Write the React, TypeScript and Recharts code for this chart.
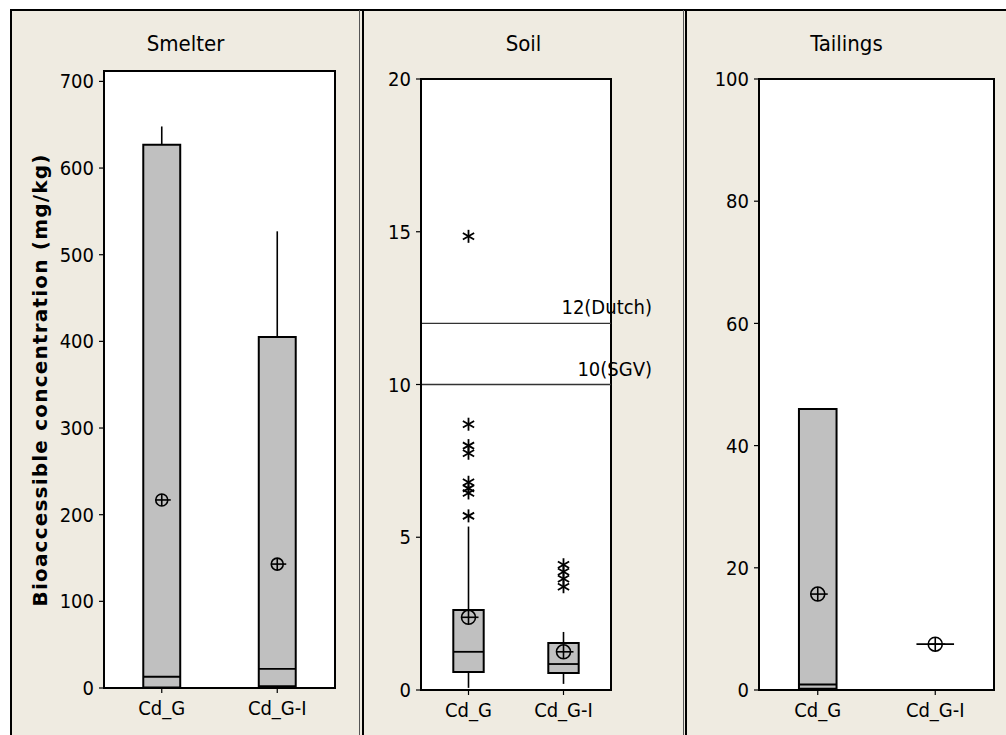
import React from 'react';
import { ComposedChart, XAxis, YAxis, Scatter, ReferenceArea, ReferenceLine } from 'recharts';

// ---------- data ----------
const categories = ['Cd_G', 'Cd_G-I'];
const yAxisTitle = 'Bioaccessible concentration (mg/kg)';

const smelterTitle = 'Smelter';
const smelterTicks = [0, 100, 200, 300, 400, 500, 600, 700];
const smelterYMax = 712;
const smelterQ1 = [0.5, 2];
const smelterMedian = [13, 22];
const smelterQ3 = [627, 405];
const smelterWhiskerLow = [0, 0];
const smelterWhiskerHigh = [648, 527];
const smelterMean = [217, 143];
const smelterOutliers: number[][] = [[], []];

const soilTitle = 'Soil';
const soilTicks = [0, 5, 10, 15, 20];
const soilYMax = 20;
const soilQ1 = [0.59, 0.56];
const soilMedian = [1.25, 0.85];
const soilQ3 = [2.62, 1.54];
const soilWhiskerLow = [0.07, 0.2];
const soilWhiskerHigh = [5.35, 1.9];
const soilMean = [2.38, 1.25];
const soilOutliers: number[][] = [
  [14.85, 8.7, 8.0, 7.75, 6.8, 6.6, 6.45, 5.7],
  [4.1, 3.87, 3.64, 3.38],
];
const soilGuideValues = [12, 10];
const soilGuideLabels = ['12(Dutch)', '10(SGV)'];

const tailingsTitle = 'Tailings';
const tailingsTicks = [0, 20, 40, 60, 80, 100];
const tailingsYMax = 100;
const tailingsQ1 = [0.2, 7.5];
const tailingsMedian = [0.9, 7.5];
const tailingsQ3 = [46, 7.5];
const tailingsWhiskerLow = [0.2, 7.5];
const tailingsWhiskerHigh = [46, 7.5];
const tailingsMean = [15.7, 7.5];
const tailingsOutliers: number[][] = [[], []];

// ---------- styles ----------
const FONT = "'DejaVu Sans Condensed', 'DejaVu Sans', sans-serif";
const BG = '#EFEBE1';
const BOX_FILL = '#C0C0C0';
const BW = 0.16; // half box width in x-units

const MeanSymbol = (props: any) => {
  const { cx, cy, r } = props;
  if (cx == null || cy == null) return null;
  return (
    <g stroke="#000" strokeWidth={1.6} fill="none">
      <circle cx={cx} cy={cy} r={r} />
      <line x1={cx} y1={cy - r} x2={cx} y2={cy + r} />
      <line x1={cx - r} y1={cy} x2={cx + r + 3} y2={cy} />
    </g>
  );
};

const StarSymbol = (props: any) => {
  const { cx, cy } = props;
  if (cx == null || cy == null) return null;
  const s = 6.5;
  const dx = s * Math.cos(Math.PI / 6);
  const dy = s * Math.sin(Math.PI / 6);
  return (
    <g stroke="#000" strokeWidth={1.8}>
      <line x1={cx} y1={cy - s} x2={cx} y2={cy + s} />
      <line x1={cx - dx} y1={cy - dy} x2={cx + dx} y2={cy + dy} />
      <line x1={cx - dx} y1={cy + dy} x2={cx + dx} y2={cy - dy} />
    </g>
  );
};

const GuideLabel = (props: any) => {
  const { viewBox, text, extend } = props;
  if (!viewBox) return null;
  return (
    <text
      x={viewBox.x + viewBox.width + extend}
      y={viewBox.y - 9}
      textAnchor="end"
      fontFamily={FONT}
      fontStretch="condensed"
      fontSize={20}
      fill="#000"
    >
      {text}
    </text>
  );
};

type PanelProps = {
  title: string;
  q1: number[];
  median: number[];
  q3: number[];
  wLow: number[];
  wHigh: number[];
  mean: number[];
  outliers: number[][];
  yMax: number;
  ticks: number[];
  left: number;
  width: number;
  plotLeft: number;
  plotRight: number;
  plotTop: number;
  plotBottom: number;
  meanR: number;
  guides?: number[];
  guideLabels?: string[];
};

const CHART_H = 725;

function BoxPanel(p: PanelProps) {
  const meanData = categories.map((_, i) => ({ x: i + 1, y: p.mean[i] }));
  const outData = p.outliers.flatMap((arr, i) => arr.map((v) => ({ x: i + 1, y: v })));
  const tickStyle = { fill: '#000', fontSize: 20, fontFamily: FONT, fontStretch: 'condensed' } as any;
  return (
    <div style={{ position: 'absolute', left: p.left, top: 10, width: p.width, height: CHART_H }}>
      <div
        style={{
          position: 'absolute',
          left: 0,
          top: 23,
          width: p.width,
          textAlign: 'center',
          fontFamily: FONT,
          fontStretch: 'condensed',
          fontSize: 22,
          lineHeight: '22px',
          color: '#000',
        }}
      >
        {p.title}
      </div>
      <ComposedChart
        width={p.width}
        height={CHART_H}
        margin={{ top: p.plotTop, right: p.width - p.plotRight, bottom: 0, left: 0 }}
        style={{ position: 'absolute', left: 0, top: 0 }}
      >
        <XAxis
          type="number"
          dataKey="x"
          domain={[0.5, 2.5]}
          ticks={[1, 2]}
          tickFormatter={(v: number) => categories[v - 1]}
          height={CHART_H - p.plotBottom}
          axisLine={{ stroke: '#000', strokeWidth: 2 }}
          tickLine={{ stroke: '#000', strokeWidth: 1.2 }}
          tickSize={5}
          tickMargin={8}
          tick={tickStyle}
          allowDataOverflow
        />
        <YAxis
          type="number"
          dataKey="y"
          domain={[0, p.yMax]}
          ticks={p.ticks}
          width={p.plotLeft}
          axisLine={{ stroke: '#000', strokeWidth: 2 }}
          tickLine={{ stroke: '#000', strokeWidth: 1.2 }}
          tickSize={5}
          tickMargin={5}
          tick={tickStyle}
          allowDataOverflow
          interval={0}
        />
        <ReferenceArea
          x1={0.5}
          x2={2.5}
          y1={0}
          y2={p.yMax}
          fill="#FFFFFF"
          fillOpacity={1}
          stroke="#000"
          strokeWidth={2}
          ifOverflow="visible"
        />
        {(p.guides || []).map((g, k) => (
          <ReferenceLine
            key={'g' + k}
            y={g}
            stroke="#333"
            strokeWidth={1.4}
            label={<GuideLabel text={(p.guideLabels || [])[k]} extend={41} />}
          />
        ))}
        {categories.map((_, i) => (
          <ReferenceLine
            key={'wh' + i}
            segment={[
              { x: i + 1, y: p.q3[i] },
              { x: i + 1, y: p.wHigh[i] },
            ]}
            stroke="#000"
            strokeWidth={1.6}
          />
        ))}
        {categories.map((_, i) => (
          <ReferenceLine
            key={'wl' + i}
            segment={[
              { x: i + 1, y: p.wLow[i] },
              { x: i + 1, y: p.q1[i] },
            ]}
            stroke="#000"
            strokeWidth={1.6}
          />
        ))}
        {categories.map((_, i) => (
          <ReferenceArea
            key={'b' + i}
            x1={i + 1 - BW}
            x2={i + 1 + BW}
            y1={p.q1[i]}
            y2={p.q3[i]}
            fill={BOX_FILL}
            fillOpacity={1}
            stroke="#000"
            strokeWidth={2}
            ifOverflow="visible"
          />
        ))}
        {categories.map((_, i) => (
          <ReferenceLine
            key={'m' + i}
            segment={[
              { x: i + 1 - BW, y: p.median[i] },
              { x: i + 1 + BW, y: p.median[i] },
            ]}
            stroke="#000"
            strokeWidth={1.8}
          />
        ))}
        <Scatter
          data={outData}
          isAnimationActive={false}
          shape={(s: any) => <StarSymbol cx={s.cx} cy={s.cy} />}
        />
        <Scatter
          data={meanData}
          isAnimationActive={false}
          shape={(s: any) => <MeanSymbol cx={s.cx} cy={s.cy} r={p.meanR} />}
        />
      </ComposedChart>
    </div>
  );
}

export default function App() {
  return (
    <div
      style={{
        position: 'absolute',
        left: 0,
        top: 0,
        width: 1006,
        height: 735,
        background: '#FFFFFF',
        overflow: 'hidden',
      }}
    >
      <div style={{ position: 'absolute', left: 10, top: 10, width: 996, height: 725, background: BG }} />
      {/* frame lines */}
      <div style={{ position: 'absolute', left: 10, top: 9, width: 996, height: 2, background: '#000' }} />
      <div style={{ position: 'absolute', left: 10, top: 9, width: 2, height: 726, background: '#000' }} />
      <div style={{ position: 'absolute', left: 359, top: 10, width: 1, height: 725, background: '#555' }} />
      <div style={{ position: 'absolute', left: 362, top: 10, width: 2, height: 725, background: '#000' }} />
      <div style={{ position: 'absolute', left: 683, top: 10, width: 1, height: 725, background: '#555' }} />
      <div style={{ position: 'absolute', left: 685, top: 10, width: 2, height: 725, background: '#000' }} />

      <BoxPanel
        title={smelterTitle}
        q1={smelterQ1}
        median={smelterMedian}
        q3={smelterQ3}
        wLow={smelterWhiskerLow}
        wHigh={smelterWhiskerHigh}
        mean={smelterMean}
        outliers={smelterOutliers}
        yMax={smelterYMax}
        ticks={smelterTicks}
        left={12}
        width={347}
        plotLeft={92}
        plotRight={323}
        plotTop={61}
        plotBottom={678}
        meanR={6}
      />
      <BoxPanel
        title={soilTitle}
        q1={soilQ1}
        median={soilMedian}
        q3={soilQ3}
        wLow={soilWhiskerLow}
        wHigh={soilWhiskerHigh}
        mean={soilMean}
        outliers={soilOutliers}
        yMax={soilYMax}
        ticks={soilTicks}
        left={364}
        width={319}
        plotLeft={57}
        plotRight={247}
        plotTop={69}
        plotBottom={680}
        meanR={7}
        guides={soilGuideValues}
        guideLabels={soilGuideLabels}
      />
      <BoxPanel
        title={tailingsTitle}
        q1={tailingsQ1}
        median={tailingsMedian}
        q3={tailingsQ3}
        wLow={tailingsWhiskerLow}
        wHigh={tailingsWhiskerHigh}
        mean={tailingsMean}
        outliers={tailingsOutliers}
        yMax={tailingsYMax}
        ticks={tailingsTicks}
        left={687}
        width={319}
        plotLeft={72}
        plotRight={307}
        plotTop={69}
        plotBottom={680}
        meanR={7}
      />
      <svg
        style={{ position: 'absolute', left: 0, top: 0, pointerEvents: 'none' }}
        width={100}
        height={735}
      >
        <text
          transform="translate(47,380) rotate(-90)"
          textAnchor="middle"
          fontFamily="'DejaVu Sans', sans-serif"
          fontWeight="bold"
          fontSize={20}
          letterSpacing={1.2}
          fill="#000"
        >
          {yAxisTitle}
        </text>
      </svg>
    </div>
  );
}
